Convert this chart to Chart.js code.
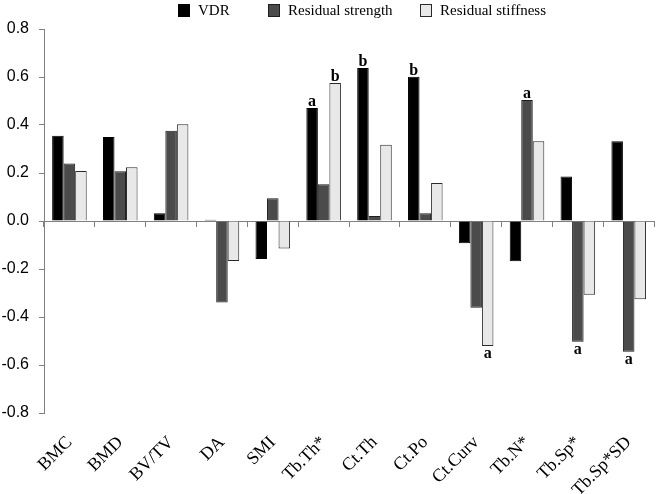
<!DOCTYPE html>
<html>
<head>
<meta charset="utf-8">
<script src="https://cdn.jsdelivr.net/npm/chart.js"></script>
<style>
  html, body { margin: 0; padding: 0; background: #fff; }
  #wrap { width: 663px; height: 494px; }
</style>
</head>
<body>
<div id="wrap"><canvas id="vdrChart"></canvas></div>
<script>
  const categories = ['BMC', 'BMD', 'BV/TV', 'DA', 'SMI', 'Tb.Th*', 'Ct.Th', 'Ct.Po', 'Ct.Curv', 'Tb.N*', 'Tb.Sp*', 'Tb.Sp*SD'];
  const vdr = [0.355, 0.350, 0.032, 0.005, -0.158, 0.471, 0.637, 0.601, -0.093, -0.168, 0.185, 0.332];
  const residualStrength = [0.240, 0.207, 0.376, -0.340, 0.095, 0.153, 0.021, 0.032, -0.361, 0.504, -0.503, -0.545];
  const residualStiffness = [0.208, 0.224, 0.403, -0.167, -0.115, 0.575, 0.318, 0.158, -0.521, 0.332, -0.307, -0.326];

  // significance letters: which series, which category, letter
  const markSeries = [0, 2, 0, 0, 2, 1, 1, 1];
  const markCategory = [5, 5, 6, 7, 8, 9, 10, 11];
  const markLetters = ['a', 'b', 'b', 'b', 'a', 'a', 'a', 'a'];

  const axisGrey = '#808080';

  // letters above / below bars
  const letterPlugin = {
    id: 'letters',
    afterDatasetsDraw(chart) {
      const ctx = chart.ctx;
      ctx.save();
      ctx.font = 'bold 16px "Liberation Serif"';
      ctx.fillStyle = '#000';
      ctx.textAlign = 'center';
      ctx.textBaseline = 'alphabetic';
      markLetters.forEach((letter, i) => {
        const ds = chart.data.datasets[markSeries[i]];
        const bar = chart.getDatasetMeta(markSeries[i]).data[markCategory[i]];
        const v = ds.data[markCategory[i]];
        const y = v >= 0 ? bar.y - 2 : bar.y + 12;
        ctx.fillText(letter, bar.x, y);
      });
      ctx.restore();
    }
  };

  // legend row drawn at the top, the way the original figure spaces it
  const legendRow = {
    id: 'legendRow',
    afterDraw(chart, args, opts) {
      const ctx = chart.ctx;
      ctx.save();
      ctx.font = '15px "Liberation Serif"';
      ctx.textBaseline = 'alphabetic';
      ctx.textAlign = 'left';
      chart.data.datasets.forEach((ds, i) => {
        const x = opts.x[i];
        ctx.fillStyle = ds.backgroundColor;
        ctx.fillRect(x + 0.5, 4.5, 11, 12);
        ctx.strokeStyle = ds.borderColor;
        ctx.lineWidth = 1;
        ctx.strokeRect(x + 0.5, 4.5, 11, 12);
        ctx.fillStyle = '#000';
        ctx.fillText(ds.label, x + 20, 15);
      });
      ctx.restore();
    }
  };

  new Chart(document.getElementById('vdrChart'), {
    type: 'bar',
    data: {
      labels: categories,
      datasets: [
        { label: 'VDR', data: vdr, backgroundColor: '#000000', borderColor: '#000000', borderWidth: 1 },
        { label: 'Residual strength', data: residualStrength, backgroundColor: '#4b4b4b', borderColor: '#1e1e1e', borderWidth: 1 },
        { label: 'Residual stiffness', data: residualStiffness, backgroundColor: '#e8e8e8', borderColor: '#2a2a2a', borderWidth: 1 }
      ]
    },
    options: {
      responsive: true,
      maintainAspectRatio: false,
      animation: false,
      layout: { padding: { top: 29, left: 0, right: 1, bottom: 0 } },
      datasets: {
        bar: { categoryPercentage: 0.68, barPercentage: 1.0 }
      },
      plugins: {
        legend: { display: false },
        tooltip: { enabled: false },
        legendRow: { x: [178, 268, 420] }
      },
      scales: {
        x: {
          offset: true,
          border: { display: false },
          grid: { display: false, drawTicks: false },
          afterFit: s => { s.height = 81; },
          ticks: {
            autoSkip: false,
            minRotation: 45,
            maxRotation: 45,
            padding: 19,
            color: '#000',
            font: { family: '"Liberation Serif"', size: 18 }
          }
        },
        x2: {
          axis: 'x',
          type: 'category',
          labels: categories,
          position: { y: 0 },
          offset: true,
          border: { display: true, color: axisGrey, width: 1 },
          grid: { offset: true, drawOnChartArea: false, drawTicks: true, tickLength: 5, color: axisGrey },
          ticks: { display: false }
        },
        y: {
          min: -0.8,
          max: 0.8,
          border: { display: true, color: axisGrey, width: 1 },
          grid: { drawOnChartArea: false, drawTicks: true, tickLength: 5, color: axisGrey },
          afterFit: s => { s.width = 44; },
          ticks: {
            stepSize: 0.2,
            padding: 10,
            color: '#000',
            font: { family: '"Liberation Sans"', size: 16 },
            callback: v => (Math.abs(v) < 1e-9 ? 0 : v).toFixed(1)
          }
        }
      }
    },
    plugins: [letterPlugin, legendRow]
  });
</script>
</body>
</html>
